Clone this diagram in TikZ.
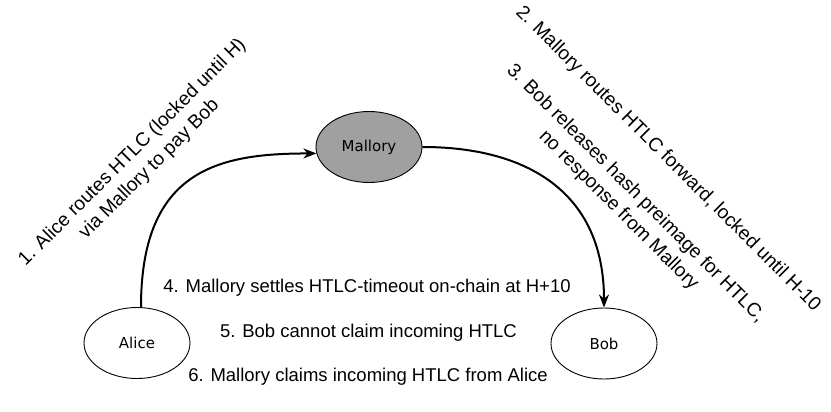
\documentclass[tikz,border=0pt]{standalone}
\usepackage{fontspec}
\setmainfont{Liberation Sans}
\newfontfamily\nodefont{DejaVu Sans}
\usetikzlibrary{shapes.geometric,arrows.meta}
\begin{document}
\begin{tikzpicture}[x=1pt,y=-1pt,
  party/.style={ellipse,draw=black,line width=0.9pt,minimum width=106pt,minimum height=71pt,inner sep=0pt,font=\nodefont\fontsize{15}{18}\selectfont},
  lbl/.style={inner sep=0pt,align=center,font=\fontsize{18.5}{23}\selectfont},
  rlbl/.style={inner sep=0pt,align=center,font=\fontsize{19.2}{24}\selectfont},
  flow/.style={line width=2pt,-{Stealth[length=13pt,width=10pt,inset=4pt]}}]
\useasboundingbox[fill=white] (0,0) rectangle (831,412);
\node[party] (alice) at (137,343) {Alice};
\node[party,fill={rgb,255:red,160;green,160;blue,160}] (mallory) at (369,147) {Mallory};
\node[party] (bob) at (604,343.5) {Bob};
\draw[flow] ([xshift=4pt]alice.north) .. controls +(0,-138) and +(-97,0) .. (mallory.187);
\draw[flow] (mallory.east) .. controls +(105,0) and +(0,-115) .. (bob.north);
\node[rlbl,rotate=45] (l1) at (141,161) {1. Alice routes HTLC (locked until H)\\via Mallory to pay Bob};
\node[rlbl,rotate=-45] (l2) at (668,159) {2. Mallory routes HTLC forward, locked until H-10};
\node[rlbl,rotate=-45] (l3) at (627,202) {3. Bob releases hash preimage for HTLC,\\no response from Mallory};
\node[lbl] (l4) at (367,288) {4. Mallory settles HTLC-timeout on-chain at H+10};
\node[lbl] (l5) at (368.5,333) {5. Bob cannot claim incoming HTLC};
\node[lbl] (l6) at (368,377) {6. Mallory claims incoming HTLC from Alice};
\end{tikzpicture}
\end{document}
